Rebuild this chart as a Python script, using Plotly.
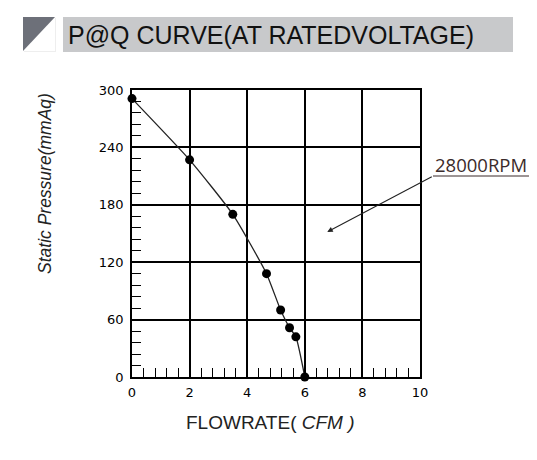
import plotly.graph_objects as go

# ---- data ----
flow = [0.0, 2.0, 3.5, 4.67, 5.16, 5.47, 5.69, 6.0]
pressure = [291, 227, 170, 108, 70, 51.5, 42, 0]
x_ticks = [0, 2, 4, 6, 8, 10]
y_ticks = [0, 60, 120, 180, 240, 300]
title_text = "P@Q CURVE(AT RATEDVOLTAGE)"
curve_label = "28000RPM"

# ---- layout geometry (pixels) ----
W, H = 537, 460
L, R, T, B = 132, 420, 90, 377


def px(x):
    return (x - L) / (R - L)


def py(y):
    return (B - y) / (B - T)


fig = go.Figure()
fig.add_trace(go.Scatter(
    x=flow, y=pressure, mode="lines+markers",
    line=dict(color="#222", width=1.3, shape="spline", smoothing=0.5),
    marker=dict(color="black", size=9),
    cliponaxis=False, showlegend=False, hoverinfo="skip",
))

axis_common = dict(
    showgrid=True, gridcolor="black", gridwidth=1.7,
    showline=True, linecolor="black", linewidth=1.7, mirror=True,
    zeroline=False, ticks="inside", ticklen=9, tickcolor="black", tickwidth=1.3,
    tickfont=dict(family="DejaVu Sans", size=13, color="#000"),
)
fig.update_xaxes(range=[0, 10], tickvals=x_ticks, ticklabelstandoff=3, **axis_common,
                 minor=dict(dtick=0.4, ticks="inside", ticklen=9, tickcolor="black", tickwidth=1.3, showgrid=False))
fig.update_yaxes(range=[0, 300], tickvals=y_ticks, ticklabelstandoff=4, **axis_common,
                 minor=dict(dtick=12, ticks="inside", ticklen=9, tickcolor="black", tickwidth=1.3, showgrid=False))

shapes = [
    # header icon
    dict(type="rect", xref="paper", yref="paper", x0=px(24), x1=px(56), y0=py(52), y1=py(18),
         fillcolor="#eeeeee", line=dict(width=0)),
    dict(type="rect", xref="paper", yref="paper", x0=px(23), x1=px(55), y0=py(51), y1=py(17),
         fillcolor="white", line=dict(width=0)),
    dict(type="path", xref="paper", yref="paper",
         path=f"M {px(23)} {py(17)} L {px(55)} {py(17)} L {px(23)} {py(51)} Z",
         fillcolor="#6d7079", line=dict(width=0)),
    # header bar
    dict(type="rect", xref="paper", yref="paper", x0=px(63), x1=px(513), y0=py(52), y1=py(17),
         fillcolor="#c8c9cb", line=dict(width=0)),
    # label underline
    dict(type="line", xref="paper", yref="paper", x0=px(433), x1=px(529), y0=py(176), y1=py(176),
         line=dict(color="#3b2b2b", width=1)),
]

annotations = [
    dict(text=title_text, xref="paper", yref="paper", x=px(66), y=py(35), xanchor="left", yanchor="middle",
         showarrow=False, font=dict(family="Liberation Sans", size=25, color="#111")),
    dict(text=curve_label, xref="paper", yref="paper", x=px(481), y=py(164), xanchor="center", yanchor="middle",
         showarrow=False, font=dict(family="Open Sans", size=18.5, color="#3b2b2b")),
    dict(text="", x=6.78, y=151.6, xref="x", yref="y", showarrow=True, ax=433 - 327, ay=176 - 232,
         arrowhead=2, arrowsize=1, arrowwidth=1.1, arrowcolor="#222"),
    dict(text="FLOWRATE(<i> CFM )</i>", xref="paper", yref="paper", x=px(270), y=py(422),
         xanchor="center", yanchor="middle", showarrow=False,
         font=dict(family="Liberation Sans", size=19, color="#222")),
    dict(text="<i>Static Pressure(mmAq)</i>", xref="paper", yref="paper", x=px(45), y=py(184),
         xanchor="center", yanchor="middle", showarrow=False, textangle=-90,
         font=dict(family="Liberation Sans", size=17.5, color="#222")),
]

fig.update_layout(
    width=W, height=H,
    margin=dict(l=L, r=W - R, t=T, b=H - B),
    paper_bgcolor="white", plot_bgcolor="white",
    shapes=shapes, annotations=annotations,
)
fig.write_html("out.html")
